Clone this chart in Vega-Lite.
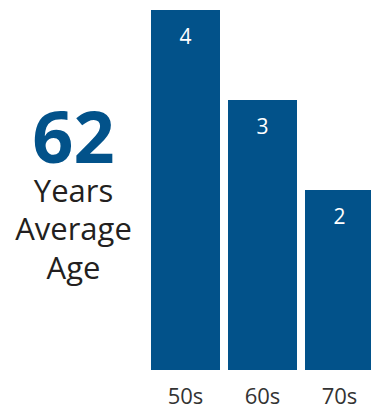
{
  "$schema": "https://vega.github.io/schema/vega-lite/v6.json",
  "padding": {"top": 10, "left": 0, "right": 0, "bottom": 0},
  "spacing": 0,
  "config": {"view": {"stroke": null}},
  "hconcat": [
    {
      "width": 147,
      "height": 360,
      "data": {"values": [
        {"label": "62", "role": "value", "line": 1},
        {"label": "Years", "role": "caption", "line": 2},
        {"label": "Average", "role": "caption", "line": 3},
        {"label": "Age", "role": "caption", "line": 4}
      ]},
      "encoding": {
        "y": {"field": "line", "type": "ordinal", "axis": null, "scale": {"type": "point", "range": [153, 269], "padding": 0}},
        "text": {"field": "label"}
      },
      "layer": [
        {
          "transform": [{"filter": "datum.role == 'value'"}],
          "mark": {"type": "text", "font": "Open Sans", "fontWeight": "bold", "fontSize": 72, "color": "#02528A", "baseline": "alphabetic"}
        },
        {
          "transform": [{"filter": "datum.role == 'caption'"}],
          "mark": {"type": "text", "font": "Open Sans", "fontSize": 31, "color": "#231F20", "baseline": "alphabetic"}
        }
      ]
    },
    {
      "width": 224,
      "height": 360,
      "data": {"values": [
        {"decade": "50s", "count": 4},
        {"decade": "60s", "count": 3},
        {"decade": "70s", "count": 2}
      ]},
      "encoding": {
        "x": {
          "field": "decade", "type": "nominal", "sort": null,
          "scale": {"range": [0, 231], "paddingInner": 0.1039, "paddingOuter": 0.052},
          "axis": {"title": null, "domain": false, "ticks": false, "tickSize": 0, "labelAngle": 0, "labelFont": "Open Sans", "labelFontSize": 22, "labelColor": "#333333", "labelPadding": 16}
        },
        "y": {"field": "count", "type": "quantitative", "scale": {"domain": [0, 4]}, "axis": null}
      },
      "layer": [
        {"mark": {"type": "bar", "color": "#02528A", "clip": true}},
        {
          "mark": {"type": "text", "color": "white", "font": "Open Sans", "fontSize": 21, "baseline": "alphabetic", "dy": 34},
          "encoding": {"text": {"field": "count", "type": "quantitative"}}
        }
      ]
    }
  ]
}
